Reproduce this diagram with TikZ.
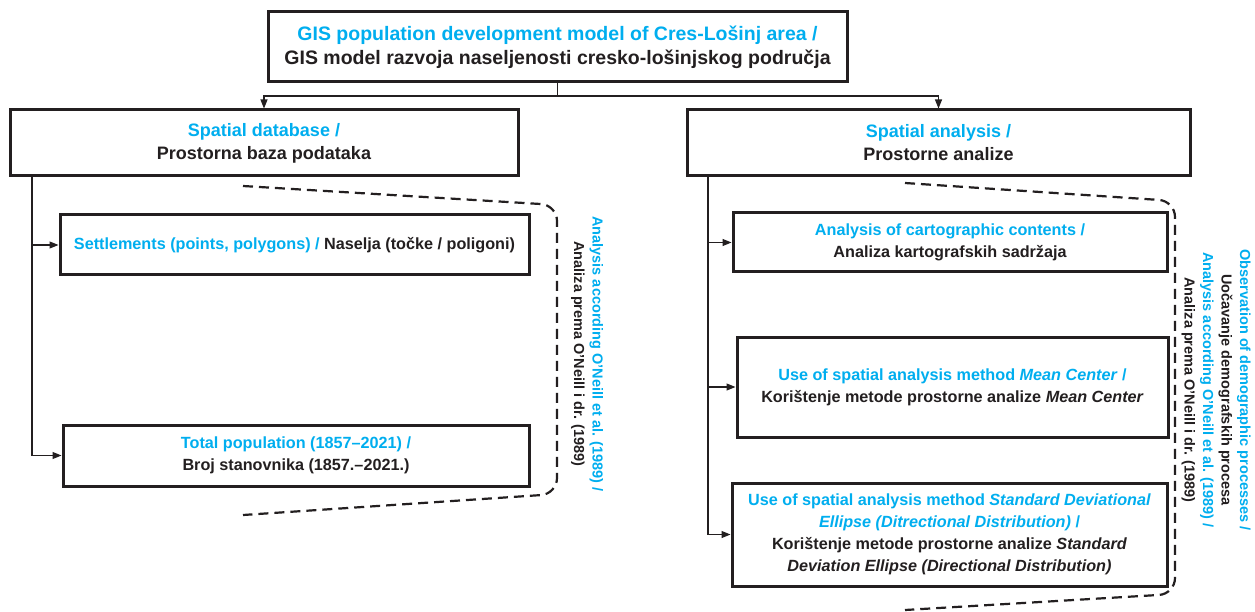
\documentclass[tikz,border=0pt]{standalone}
\usepackage{fontspec}
\setmainfont{Liberation Sans}
\usetikzlibrary{arrows.meta}
\definecolor{engblue}{RGB}{0,174,239}
\definecolor{hrblack}{RGB}{35,31,32}
\newcommand{\eng}[1]{\textcolor{engblue}{#1}}
\tikzset{
  box/.style={draw=hrblack, line width=3pt, fill=white, align=center, inner sep=2pt, text=hrblack},
  bigtext/.style={font=\fontsize{19.5}{24}\selectfont\bfseries},
  midtext/.style={font=\fontsize{18}{23}\selectfont\bfseries},
  smalltext/.style={font=\fontsize{16.2}{22}\selectfont\bfseries},
  notetext/.style={font=\fontsize{14.5}{18.5}\selectfont\bfseries, text=hrblack, align=center, rotate=-90},
  link/.style={draw=hrblack, line width=1.1pt},
  arrowlink/.style={link, -{Triangle[length=9pt,width=7pt]}},
  bracket/.style={draw=hrblack, line width=2.2pt, dash pattern=on 10pt off 6pt, rounded corners=16pt}
}
\begin{document}
\begin{tikzpicture}[x=1pt,y=-1pt]
\useasboundingbox (0,0) rectangle (1255,612);
\fill[white] (0,0) rectangle (1255,612);
% main box
\node[box, bigtext, minimum width=579pt, minimum height=70pt] (model) at (557.5,47)
  {\eng{GIS population development model of Cres-Lošinj area /}\\GIS model razvoja naseljenosti cresko-lošinjskog područja};
% two branches
\node[box, midtext, minimum width=508pt, minimum height=66pt] (db) at (264,143)
  {\eng{Spatial database /}\\Prostorna baza podataka};
\node[box, midtext, minimum width=503pt, minimum height=66pt] (sa) at (938.5,143)
  {\eng{Spatial analysis /}\\Prostorne analize};
\coordinate (split) at (557.5,96);
\draw[link] (model.south) -- (split);
\draw[arrowlink] (split) -| (db.north);
\draw[arrowlink] (split) -| (sa.north);
% spatial database
\node[box, smalltext, minimum width=469pt, minimum height=60pt] (settle) at (294.5,245)
  {\eng{Settlements (points, polygons) /} Naselja (točke / poligoni)};
\node[box, smalltext, minimum width=466pt, minimum height=61pt] (pop) at (296,455.5)
  {\eng{Total population (1857--2021) /}\\Broj stanovnika (1857.--2021.)};
\coordinate (dbtrunk) at (32,176);
\draw[arrowlink] (dbtrunk) |- (settle.west);
\draw[arrowlink] (dbtrunk) |- (pop.west);
% spatial analysis
\node[box, smalltext, minimum width=434pt, minimum height=59pt] (carto) at (950,242.5)
  {\eng{Analysis of cartographic contents /}\\Analiza kartografskih sadržaja};
\node[box, smalltext, minimum width=431pt, minimum height=100pt] (mean) at (952.5,387)
  {\eng{Use of spatial analysis method \textit{Mean Center} /}\\Korištenje metode prostorne analize \textit{Mean Center}};
\node[box, smalltext, minimum width=435pt, minimum height=103pt] (sde) at (949.5,534.5)
  {\eng{Use of spatial analysis method \textit{Standard Deviational}}\\\eng{\textit{Ellipse (Ditrectional Distribution)} /}\\Korištenje metode prostorne analize \textit{Standard}\\\textit{Deviation Ellipse (Directional Distribution)}};
\coordinate (satrunk) at (708,176);
\draw[arrowlink] (satrunk) |- (carto.west);
\draw[arrowlink] (satrunk) |- (mean.west);
\draw[arrowlink] (satrunk) |- (sde.west);
% dashed brackets
\draw[bracket] (243,186) -- (557,205) -- (557,494) -- (243,515);
\draw[bracket] (905,183) -- (1175,201) -- (1175,594) -- (905,610);
\node[notetext] (dbnote) at (587,354)
  {\eng{Analysis according O'Neill et al. (1989) /}\\Analiza prema O'Neill i dr. (1989)};
\node[notetext] (sanote) at (1216,390)
  {\eng{Observation of demographic processes /}\\Uočavanje demografskih procesa\\\eng{Analysis according O'Neill et al. (1989) /}\\Analiza prema O'Neill i dr. (1989)};
\end{tikzpicture}
\end{document}
